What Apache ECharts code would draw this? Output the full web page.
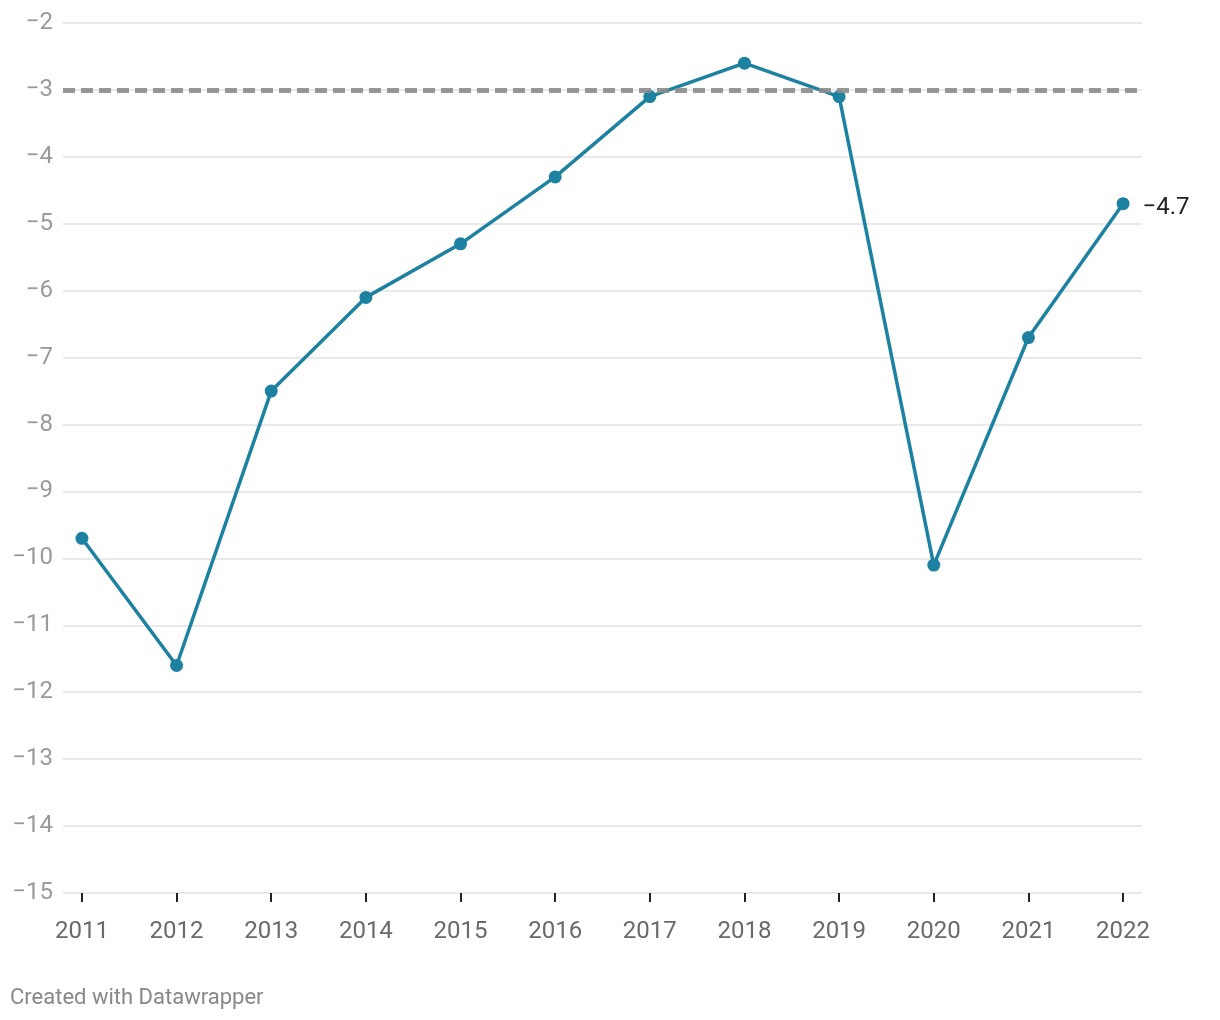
<!DOCTYPE html>
<html><head><meta charset="utf-8">
<script src="https://cdn.jsdelivr.net/npm/echarts@6/dist/echarts.min.js"></script>
<style>html,body{margin:0;padding:0;background:#fff}#c{width:1220px;height:1020px}</style>
</head><body><div id="c"></div>
<script>
const years = [2011,2012,2013,2014,2015,2016,2017,2018,2019,2020,2021,2022];
const values = [-9.7,-11.6,-7.5,-6.1,-5.3,-4.3,-3.1,-2.6,-3.1,-10.1,-6.7,-4.7];
const yTicks = [-15,-14,-13,-12,-11,-10,-9,-8,-7,-6,-5,-4,-3,-2];
const refValue = -3;
const fmt = v => String(v).replace('-', '\u2212');

const chart = echarts.init(document.getElementById('c'));
chart.setOption({
  animation:false,
  textStyle:{fontFamily:'Roboto'},
  grid:{left:63,right:78,top:23,bottom:127},
  graphic:[{type:'text',left:10,top:987,style:{text:'Created with Datawrapper',fill:'#888',font:'22px Roboto'}}],
  xAxis:{type:'value',min:2010.8,max:2022.2,
    axisLine:{show:false},splitLine:{show:false},
    axisTick:{show:true,customValues:years,length:9,lineStyle:{color:'#222',width:2}},
    axisLabel:{customValues:years,color:'#6a6a6a',fontSize:24,margin:27,formatter:v=>String(v)}},
  yAxis:{type:'value',min:-15,max:-2,interval:1,
    axisLine:{show:false},axisTick:{show:false},
    splitLine:{lineStyle:{color:'#e2e2e2',width:1.5}},
    axisLabel:{color:'#9a9a9a',fontSize:24,margin:10,formatter:v=>fmt(v)}},
  series:[{
    type:'line',data:years.map((y,i)=>[y,values[i]]),
    lineStyle:{color:'#1d81a2',width:3.5},itemStyle:{color:'#1d81a2'},
    symbol:'circle',symbolSize:13,
    label:{show:true,position:'right',distance:13,offset:[0,4],color:'#222',fontSize:24,
      formatter:p=>p.dataIndex===values.length-1?fmt(p.value[1]):''},
    markLine:{silent:true,symbol:'none',label:{show:false},
      lineStyle:{color:'#8c8c8c',opacity:0.9,width:5,type:[12,6]},
      data:[{yAxis:refValue}],z:10}
  }]
});
</script></body></html>
